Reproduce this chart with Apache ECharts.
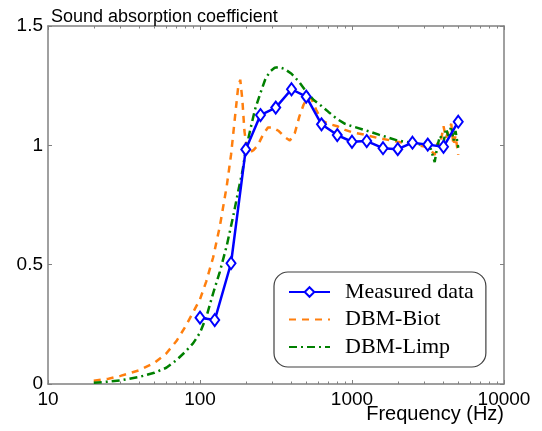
<!DOCTYPE html>
<html>
<head>
<meta charset="utf-8">
<script src="https://cdn.jsdelivr.net/npm/echarts@6/dist/echarts.min.js"></script>
<style>
html,body{margin:0;padding:0;background:#fff;}
#c{width:542px;height:431px;}
</style>
</head>
<body>
<div id="c"></div>
<script>
// Measured data (1/3 octave)
const measuredFreq = [100,125,160,200,250,315,400,500,630,800,1000,1250,1600,2000,2500,3150,4000,5000];
const measuredVal  = [0.278,0.268,0.506,0.983,1.127,1.158,1.235,1.204,1.088,1.043,1.015,1.018,0.988,0.984,1.011,1.003,0.994,1.099];

// DBM-Biot
const biotFreq = [20,25,30,40,50,60,70,80,90,100,110,122,135,150,160,170,178,184,190,196,202,212,225,240,260,280,300,330,360,390,420,450,480,510,540,580,630,700,800,900,1000,1200,1500,2000,2500,3000,3300,3500,3650,3800,4000,4150,4300,4500,4650,4800,5000];
const biotVal  = [0.014,0.022,0.034,0.058,0.088,0.128,0.18,0.24,0.30,0.355,0.43,0.53,0.66,0.83,0.96,1.12,1.24,1.275,1.19,1.06,1.0,0.97,0.98,1.0,1.045,1.075,1.075,1.06,1.035,1.02,1.05,1.12,1.17,1.2,1.195,1.15,1.105,1.09,1.08,1.065,1.055,1.045,1.03,1.015,1.005,0.995,0.98,0.96,1.01,1.0,1.08,1.03,1.06,1.09,1.0,1.04,0.96];

// DBM-Limp
const limpFreq = [20,25,30,40,50,60,70,80,90,100,110,122,135,150,165,180,190,200,215,230,250,270,290,310,330,360,400,450,500,560,630,700,800,900,1000,1200,1500,2000,2500,3000,3300,3500,3650,3800,4000,4150,4300,4500,4650,4800,5000];
const limpVal  = [0.005,0.01,0.015,0.03,0.047,0.068,0.1,0.135,0.17,0.215,0.28,0.38,0.47,0.58,0.7,0.82,0.89,0.98,1.07,1.15,1.22,1.28,1.31,1.325,1.328,1.32,1.3,1.265,1.225,1.19,1.165,1.14,1.11,1.09,1.08,1.065,1.045,1.02,1.01,1.0,0.985,0.93,1.0,1.04,1.01,1.07,1.04,1.08,1.02,1.06,0.99];

const seriesNames = ['Measured data','DBM-Biot','DBM-Limp'];
const titleText = 'Sound absorption coefficient';
const xName = 'Frequency (Hz)';
const minorFreq = [20,30,40,50,60,70,80,90,200,300,400,500,600,700,800,900,2000,3000,4000,5000,6000,7000,8000,9000];
const minorLog = minorFreq.map(v => Math.log10(v));

const zip = (a,b) => a.map((v,i)=>[v,b[i]]);
const gray = '#808080';
const font = 'Arial, "Liberation Sans", sans-serif';

const chart = echarts.init(document.getElementById('c'));
chart.setOption({
  animation:false,
  backgroundColor:'#fff',
  title:[
    {text:titleText,left:46,top:3,textStyle:{fontFamily:font,fontSize:18,fontWeight:'normal',color:'#000'}},
    {text:xName,right:38,top:404,padding:0,textStyle:{fontFamily:font,fontSize:20,fontWeight:'normal',color:'#000'}}
  ],
  grid:{left:48,right:38,top:26,bottom:47,containLabel:false,outerBoundsMode:'none'},
  xAxis:[
    {type:'log',logBase:10,min:10,max:10000,position:'bottom',
     axisLine:{show:true,lineStyle:{color:gray,width:1.5}},
     axisTick:{show:true,inside:true,length:4,lineStyle:{color:gray}},
     axisLabel:{show:true,margin:6,fontFamily:font,fontSize:19,color:'#000',formatter:v=>String(Math.round(v))},
     splitLine:{show:false}},
    {type:'value',min:1,max:4,position:'bottom',
     axisLine:{show:false},
     axisTick:{show:true,inside:true,length:2.5,customValues:minorLog,lineStyle:{color:gray}},
     axisLabel:{show:false},splitLine:{show:false}},
    {type:'log',logBase:10,min:10,max:10000,position:'top',
     axisLine:{show:true,lineStyle:{color:gray,width:1.5}},
     axisTick:{show:true,inside:true,length:4,lineStyle:{color:gray}},
     axisLabel:{show:false},splitLine:{show:false}},
    {type:'value',min:1,max:4,position:'top',
     axisLine:{show:false},
     axisTick:{show:true,inside:true,length:2.5,customValues:minorLog,lineStyle:{color:gray}},
     axisLabel:{show:false},splitLine:{show:false}}
  ],
  yAxis:[
    {type:'value',min:0,max:1.5,interval:0.5,position:'left',
     axisLine:{show:true,lineStyle:{color:gray,width:1.5}},
     axisTick:{show:true,inside:true,length:4,lineStyle:{color:gray}},
     axisLabel:{show:true,margin:5,fontFamily:font,fontSize:19,color:'#000'},
     splitLine:{show:false}},
    {type:'value',min:0,max:1.5,interval:0.5,position:'right',
     axisLine:{show:true,lineStyle:{color:gray,width:1.5}},
     axisTick:{show:true,inside:true,length:4,lineStyle:{color:gray}},
     axisLabel:{show:false},splitLine:{show:false}}
  ],
  legend:{
    orient:'vertical',left:274,top:272,
    padding:[9,12,9,14],itemWidth:41,itemHeight:12,itemGap:5.5,
    backgroundColor:'#fff',borderColor:'#404040',borderWidth:1.2,borderRadius:14,
    textStyle:{fontFamily:'"Liberation Serif","Times New Roman",serif',fontSize:22,lineHeight:22,color:'#000',padding:[0,0,0,10]},
    data:[
      {name:seriesNames[0]},
      {name:seriesNames[1],itemStyle:{opacity:0}},
      {name:seriesNames[2],itemStyle:{opacity:0}}
    ]
  },
  series:[
    {name:seriesNames[1],type:'line',xAxisIndex:0,yAxisIndex:0,data:zip(biotFreq,biotVal),
     showSymbol:false,symbol:'none',smooth:false,
     lineStyle:{color:'#ff7f0e',width:2.5,type:[7,6]},itemStyle:{color:'#ff7f0e'},z:2},
    {name:seriesNames[2],type:'line',xAxisIndex:0,yAxisIndex:0,data:zip(limpFreq,limpVal),
     showSymbol:false,symbol:'none',
     lineStyle:{color:'#008000',width:2.5,type:[8,4,2,4]},itemStyle:{color:'#008000'},z:3},
    {name:seriesNames[0],type:'line',xAxisIndex:0,yAxisIndex:0,data:zip(measuredFreq,measuredVal),
     symbol:'diamond',symbolSize:[9,12],showSymbol:true,
     lineStyle:{color:'#0000ff',width:2.5},
     itemStyle:{color:'#ffffff',borderColor:'#0000ff',borderWidth:2},z:4}
  ]
});
</script>
</body>
</html>
